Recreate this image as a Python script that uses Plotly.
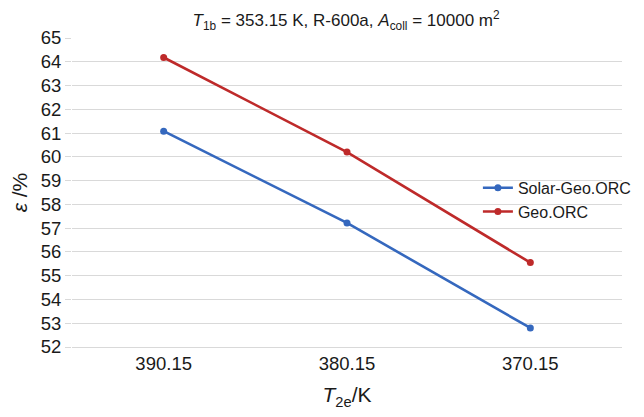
import plotly.graph_objects as go

categories = ["390.15", "380.15", "370.15"]
solar_geo_orc = [61.08, 57.22, 52.8]
geo_orc = [64.18, 60.2, 55.55]
y_ticks = list(range(52, 66))

blue = "#3568be"
red = "#be2a2a"
font_family = "Liberation Sans, Arial, sans-serif"

fig = go.Figure()
fig.add_trace(go.Scatter(
    x=categories, y=solar_geo_orc, name="Solar-Geo.ORC",
    mode="lines+markers", line=dict(color=blue, width=2.6),
    marker=dict(size=7, color=blue)))
fig.add_trace(go.Scatter(
    x=categories, y=geo_orc, name="Geo.ORC",
    mode="lines+markers", line=dict(color=red, width=2.6),
    marker=dict(size=7, color=red)))

fig.update_layout(
    width=644, height=417,
    paper_bgcolor="white", plot_bgcolor="white",
    margin=dict(l=64, r=30, t=30, b=78),
    font=dict(family=font_family, size=16, color="#1a1a1a"),
    title=dict(text="<i>T</i><sub>1b</sub> = 353.15 K, R-600a, <i>A</i><sub>coll</sub> = 10000 m<sup>2</sup>",
               x=0.525, xanchor="center", yref="container", y=0.985, yanchor="top",
               pad=dict(t=0, b=0),
               font=dict(size=17)),
    showlegend=True,
    legend=dict(x=0.738, y=0.57, xanchor="left", yanchor="top",
                bgcolor="rgba(0,0,0,0)", font=dict(size=16),
                tracegroupgap=0, itemwidth=30),
    xaxis=dict(type="category", range=[-0.5, 2.5], showgrid=False,
               showline=True, linecolor="#d9d9d9", linewidth=1,
               ticks="", tickfont=dict(size=18.5), automargin=False,
               title=dict(text="<i>T</i><sub>2e</sub>/K", font=dict(size=21), standoff=14)),
    yaxis=dict(range=[52, 65], tickvals=y_ticks, showgrid=True,
               gridcolor="#d9d9d9", gridwidth=1, zeroline=False,
               showline=False, ticks="outside", ticklen=6, tickcolor="#d9d9d9",
               tickfont=dict(size=18.5), automargin=False,
               title=dict(text="<i>ε</i> /%", font=dict(size=21), standoff=14)),
)

fig.write_html("out.html")
